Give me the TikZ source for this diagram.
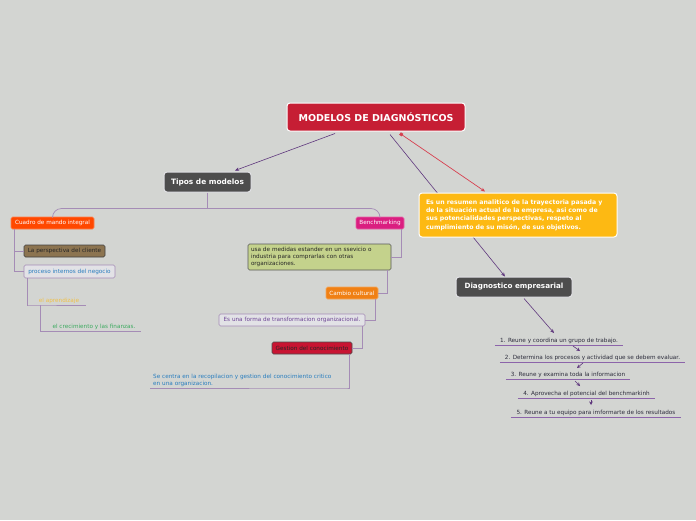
\documentclass[tikz,border=0pt]{standalone}
\usepackage{fontspec}
\setmainfont{DejaVu Sans}
\usetikzlibrary{arrows.meta,calc}
\definecolor{bgc}{RGB}{211,213,210}
\definecolor{treec}{RGB}{165,140,182}
\definecolor{arrc}{RGB}{95,55,125}
\definecolor{redl}{RGB}{215,65,80}
\definecolor{titlec}{RGB}{198,30,52}
\definecolor{darkc}{RGB}{77,77,77}
\definecolor{yellowc}{RGB}{253,185,19}
\definecolor{cuadroc}{RGB}{255,72,0}
\definecolor{perspc}{RGB}{140,116,80}
\definecolor{lightc}{RGB}{226,226,230}
\definecolor{benchc}{RGB}{218,30,128}
\definecolor{greenc}{RGB}{196,210,140}
\definecolor{cambioc}{RGB}{240,128,20}
\definecolor{gestc}{RGB}{200,20,50}
\definecolor{bluet}{RGB}{40,125,190}
\definecolor{aprc}{RGB}{240,192,70}
\definecolor{crecc}{RGB}{60,170,95}
\definecolor{purpt}{RGB}{110,70,150}
\definecolor{stept}{RGB}{45,45,60}
\definecolor{ulc}{RGB}{140,100,170}
\tikzset{
  bigbox/.style={rounded corners=3pt, draw=white, line width=1pt, inner sep=0pt, align=center, text=white},
  smallbox/.style={rounded corners=1.5pt, line width=0.6pt, inner sep=0pt, align=center},
  tree/.style={draw=treec, line width=0.7pt},
  arr/.style={draw=arrc, line width=0.6pt, -{Stealth[length=4pt,width=3.5pt]}},
  sarr/.style={draw=arrc, line width=0.6pt, -{Stealth[length=3.5pt,width=3.5pt]}},
  ultext/.style={inner sep=1pt, anchor=south, align=center},
  ul/.style={draw=ulc, line width=0.6pt},
  fs/.style={font=\fontsize{5.7}{6.8}\selectfont},
}
\begin{document}
\begin{tikzpicture}[x=1pt,y=-1pt]
\fill[bgc] (0,0) rectangle (696,520);
\useasboundingbox (0,0) rectangle (696,520);

% main nodes
\node[bigbox, fill=titlec, minimum width=178, minimum height=28, font=\fontsize{9.5}{11}\bfseries] (title) at (376,117) {MODELOS DE DIAGNÓSTICOS};
\node[bigbox, draw=lightc, fill=darkc, minimum width=87, minimum height=20, font=\fontsize{7.4}{9}\bfseries] (tipos) at (207.5,182) {Tipos de modelos};
\node[bigbox, draw=lightc, fill=darkc, minimum width=116, minimum height=20, font=\fontsize{7.2}{9}\bfseries] (diag) at (514,287) {Diagnostico empresarial};

% connector behind yellow box
\draw[arr] ($(title.south)+(14,3)$) -- ($(diag.north)+(-9,0)$);

\node[bigbox, fill=yellowc, minimum width=198, minimum height=44, text width=184, align=left, font=\fontsize{6.2}{8.3}\bfseries] (yel) at (518,215) {Es un resumen analitico de la trayectoria pasada y\\de la situación actual de la empresa, asi como de\\sus potencialidades perspectivas, respeto al\\cumplimiento de su misón, de sus objetivos.};

\draw[arr] ($(title.south)+(-41,2)$) -- ($(tipos.north)+(27.5,-1)$);
\draw[draw=redl, line width=0.7pt, {Square[length=3pt,width=3pt]}-{Stealth[length=4pt,width=3.5pt]}] ($(title.south)+(24,2)$) -- ($(yel.north)+(-33,-1)$);

% left branch
\node[smallbox, draw=cuadroc!70!white, fill=cuadroc, text=white, minimum width=83, minimum height=12, fs] (cuadro) at (52.5,223) {Cuadro de mando integral};
\node[smallbox, draw=black!75, fill=perspc, text=black!85, minimum width=81, minimum height=12, fs] (persp) at (64.5,251) {La perspectiva del cliente};
\node[smallbox, draw=treec, fill=lightc, text=bluet, minimum width=91, minimum height=13, fs] (proceso) at (69.5,271.5) {proceso internos del negocio};
\node[ultext, fs, text=aprc, minimum width=58] (apr) at (57,305) {\hspace{4pt}el aprendizaje};
\node[ultext, fs, text=crecc, minimum width=100] (crec) at (91,331) {\hspace{6pt}el crecimiento y las finanzas.};

% right branch
\node[smallbox, draw=benchc!70!white, fill=benchc, text=white, minimum width=48, minimum height=12, fs] (bench) at (380,223) {Benchmarking};
\node[smallbox, draw=black!65, fill=greenc, text=black!85, minimum width=143, minimum height=26, text width=137, align=left, fs] (green) at (319.5,257) {usa de medidas estander en un ssevicio o\\industria para comprarlas con otras\\organizaciones.};
\node[smallbox, draw=cambioc!70!white, fill=cambioc, text=white, minimum width=52, minimum height=12, fs] (cambio) at (352,293) {Cambio cultural};
\node[smallbox, draw=treec, fill=lightc, text=purpt, minimum width=146, minimum height=12, fs] (forma) at (292,320) {Es una forma de transformacion organizacional.};
\node[smallbox, draw=black!70, fill=gestc, text=black!85, minimum width=80, minimum height=12, fs] (gestion) at (312,348) {Gestion del conocimiento};
\node[inner sep=1pt, anchor=south west, text width=194, align=left, fs, text=bluet] (secentra) at (150,388) {\hspace{2pt}Se centra en la recopilacion y gestion del conocimiento critico\\\hspace{2pt}en una organizacion.};

% tree connectors
\draw[tree, rounded corners=9pt] (cuadro.north) |- ($(tipos.south)+(0,16)$) -| (bench.north);
\draw[tree] (tipos.south) -- ($(tipos.south)+(0,16)$);
\draw[tree] ($(cuadro.south west)+(4,0)$) |- (persp.west);
\draw[tree] ($(cuadro.south west)+(4,0)$) |- (proceso.west);
\draw[tree] ($(proceso.south west)+(4,0)$) |- (apr.south west) -- (apr.south east);
\draw[tree] ($(apr.south west)+(13,0)$) |- (crec.south west) -- (crec.south east);
\draw[tree] ($(bench.south east)+(-3,0)$) |- (green.east);
\draw[tree] ($(green.south east)+(-4,0)$) |- (cambio.east);
\draw[tree] ($(cambio.south east)+(-3,0)$) |- (forma.east);
\draw[tree] ($(forma.south east)+(-3,0)$) |- (gestion.east);
\draw[tree] ($(gestion.south east)+(-3,0)$) |- (secentra.south east) -- (secentra.south west);

% steps
\node[ultext, fs, text=stept, minimum width=128] (s1) at (559,345) {1. Reune y coordina un grupo de trabajo.};
\node[ultext, fs, text=stept, minimum width=185] (s2) at (592.5,362) {2. Determina los procesos y actividad que se debem evaluar.};
\node[ultext, fs, text=stept, minimum width=124] (s3) at (568,379) {3. Reune y examina toda la informacion};
\node[ultext, fs, text=stept, minimum width=137] (s4) at (586.5,398) {4. Aprovecha el potencial del benchmarkinh};
\node[ultext, fs, text=stept, minimum width=170] (s5) at (596,417) {5. Reune a tu equipo para imformarte de los resultados};
\foreach \s in {s1,s2,s3,s4,s5} \draw[ul] (\s.south west) -- (\s.south east);

\draw[arr] ($(diag.south)+(10,1)$) -- ($(s1.south)+(-5,-12)$);
\draw[sarr] ($(s1.south)+(14,1)$) -- ($(s2.south)+(-12.5,-11)$);
\draw[sarr] ($(s2.south)+(-9.5,1)$) -- ($(s3.south)+(9,-11)$);
\draw[sarr] ($(s3.south)+(7,2)$) -- ($(s4.south)+(-6.5,-12)$);
\draw[sarr] ($(s4.south)+(4.5,2)$) -- ($(s5.south)+(-5,-12)$);
\end{tikzpicture}
\end{document}
